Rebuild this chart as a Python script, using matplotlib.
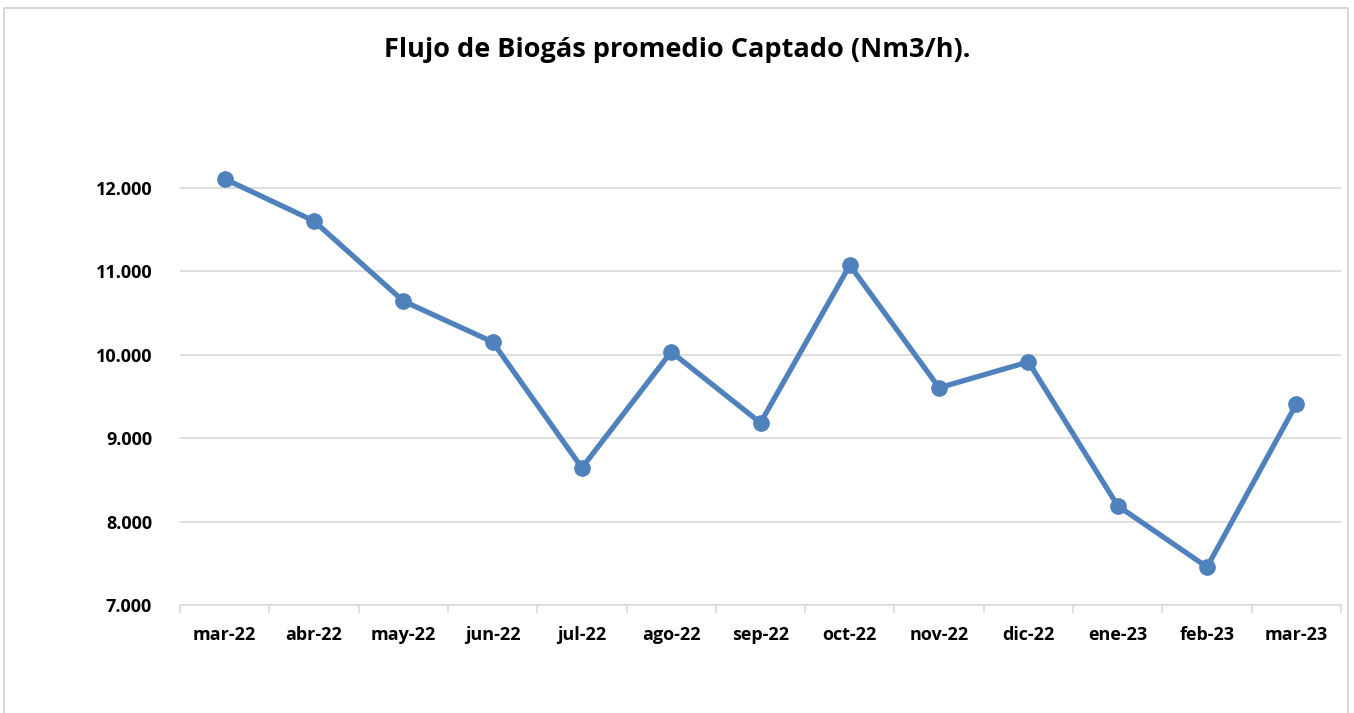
import matplotlib
matplotlib.use("Agg")
import matplotlib.pyplot as plt
from matplotlib.patches import Rectangle
from matplotlib.ticker import FuncFormatter, FixedLocator

categories = ["mar-22", "abr-22", "may-22", "jun-22", "jul-22", "ago-22", "sep-22",
              "oct-22", "nov-22", "dic-22", "ene-23", "feb-23", "mar-23"]
flow = [12110, 11605, 10645, 10155, 8645, 10035, 9185, 11075, 9605, 9915, 8190, 7455, 9410]
yticks = [7000, 8000, 9000, 10000, 11000, 12000]

plt.rcParams['font.family'] = ['Open Sans', 'DejaVu Sans']

W, H = 1354, 713
fig = plt.figure(figsize=(W / 100, H / 100), dpi=100)

# outer chart border
fig.patches.append(Rectangle((4 / W, -0.05), 1344 / W, 1 - 8 / H + 0.05,
                             transform=fig.transFigure, fill=False,
                             edgecolor="#D9D9D9", linewidth=1.5))

ax = fig.add_axes([180 / W, 1 - 605 / H, (1341 - 180) / W, (605 - 138) / H])
x = list(range(len(categories)))
ax.plot(x, flow, color="#4F81BD", linewidth=3.8, marker="o", markersize=11,
        solid_capstyle="round", zorder=3)

ax.set_xlim(-0.5, len(categories) - 0.5)
ax.set_ylim(7000, 12600)
ax.set_yticks(yticks)
ax.yaxis.set_major_formatter(FuncFormatter(lambda v, p: f"{int(v):,}".replace(",", ".")))
ax.grid(axis="y", color="#D9D9D9", linewidth=1.2)
ax.set_axisbelow(True)

ax.set_xticks(x)
ax.set_xticklabels(categories)
ax.xaxis.set_minor_locator(FixedLocator([i - 0.5 for i in range(len(categories) + 1)]))
ax.tick_params(axis="x", which="major", length=0, pad=15)
ax.tick_params(axis="x", which="minor", length=6, color="#D9D9D9", width=1.2)
ax.tick_params(axis="y", length=0, pad=20)
for lbl in ax.get_xticklabels() + ax.get_yticklabels():
    lbl.set_fontweight("bold")
    lbl.set_fontsize(13)

for s in ["top", "right", "left"]:
    ax.spines[s].set_visible(False)
ax.spines["bottom"].set_color("#D9D9D9")
ax.spines["bottom"].set_linewidth(1.2)

fig.text(677 / W, 1 - 50 / H, "Flujo de Biogás promedio Captado (Nm3/h).",
         ha="center", va="center", fontsize=19.5, fontweight="bold")

fig.savefig("out.png", dpi=100)
